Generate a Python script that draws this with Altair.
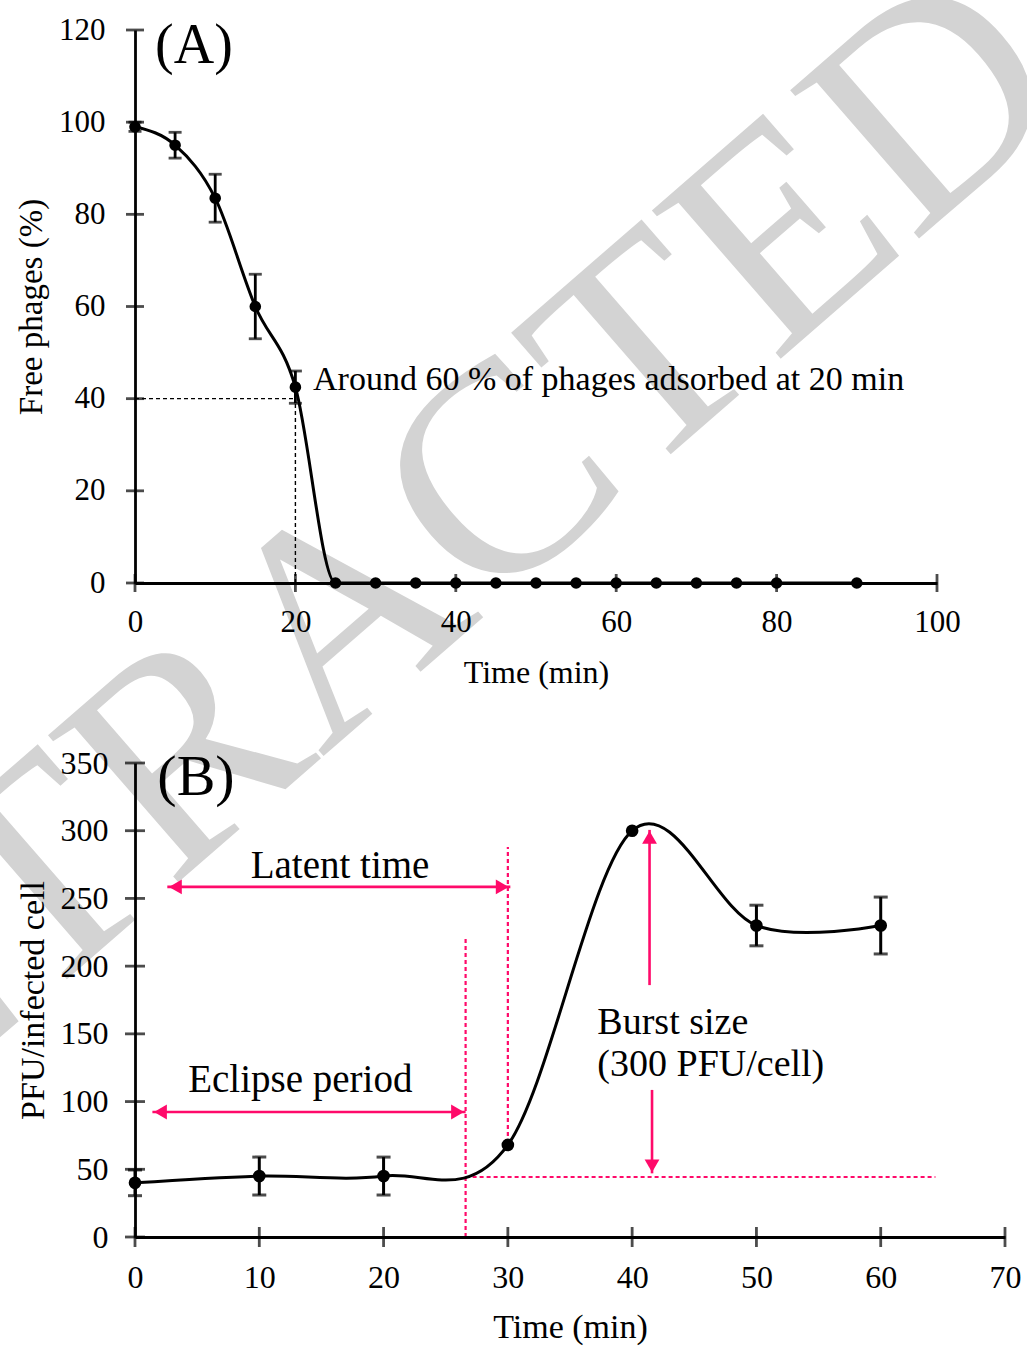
import altair as alt
import pandas as pd

FONT = "Liberation Serif"
PINK = "#ff0a6a"
BLACK = "#000000"

# ---------------- Panel A data ----------------
a_time = [0, 5, 10, 15, 20, 25, 30, 35, 40, 45, 50, 55, 60, 65, 70, 75, 80, 90]
a_free = [99, 95, 83.5, 60, 42.5, 0, 0, 0, 0, 0, 0, 0, 0, 0, 0, 0, 0, 0]
a_err = [1, 2.8, 5.2, 7, 3.5, 0, 0, 0, 0, 0, 0, 0, 0, 0, 0, 0, 0, 0]
a_xticks = [0, 20, 40, 60, 80, 100]
a_yticks = [0, 20, 40, 60, 80, 100, 120]

a_guide_x = [0, 20]
a_guide_x2 = [20, 20]
a_guide_y = [40, 0]
a_guide_y2 = [40, 40]
a_note = ["Around 60 % of phages adsorbed at 20 min"]
a_note_x = [22.2]
a_note_y = [44]
a_panel = ["(A)"]
a_panel_x = [2.5]
a_panel_y = [116.5]

watermark = ["RETRACTED"]

# ---------------- Panel B data ----------------
b_time = [0, 10, 20, 30, 40, 50, 60]
b_pfu = [40, 45, 45, 68, 300, 230, 230]
b_err = [9.5, 14, 14, 0, 0, 15, 21]
b_xticks = [0, 10, 20, 30, 40, 50, 60, 70]
b_yticks = [0, 50, 100, 150, 200, 250, 300, 350]

# horizontal double arrows (Latent time, Eclipse period)
b_harrow_x1 = [2.6, 1.4]
b_harrow_x2 = [30.2, 26.6]
b_harrow_y = [258.5, 92.3]
b_head_off = 0.65
# vertical arrows (burst size)
b_varrow_x = [41.4, 41.6]
b_varrow_from = [186, 108.6]
b_varrow_tip = [300.6, 47]
b_vhead_off = [-5.5, 5.5]
# dashed pink guides
b_vdash_x = [30, 26.6]
b_vdash_y1 = [69.5, 0]
b_vdash_y2 = [288, 221.6]
b_hdash_x1 = [26.6]
b_hdash_x2 = [64.4]
b_hdash_y = [44.3]
# texts
b_ctext = ["Latent time", "Eclipse period"]
b_ctext_x = [16.5, 13.3]
b_ctext_y = [274, 116]
b_ltext = ["Burst size", "(300 PFU/cell)"]
b_ltext_x = [37.2, 37.2]
b_ltext_y = [158, 127]
b_panel = ["(B)"]
b_panel_x = [1.8]
b_panel_y = [339]

# ---------------- sizes ----------------
AW, AH = 802, 553
BW, BH = 870, 474


def axis(values, title, lp, tp, lfs, tfs):
    return alt.Axis(values=values, title=title, grid=False, ticks=False, tickSize=0,
                    labelPadding=lp, titlePadding=tp, labelFontSize=lfs, titleFontSize=tfs,
                    labelFont=FONT, titleFont=FONT, titleFontWeight="normal",
                    labelColor=BLACK, titleColor=BLACK, domainColor=BLACK, domainWidth=2.8,
                    labelFlush=False, labelOverlap=False, labelBound=False, zindex=1)


# ---------------- Panel A ----------------
sxA = alt.Scale(domain=[0, 100], nice=False, zero=False)
syA = alt.Scale(domain=[0, 120], nice=False, zero=False)
axA_x = axis(a_xticks, "Time (min)", 24, 20, 31, 32)
axA_y = axis(a_yticks, "Free phages (%)", 30, 10, 31, 33)


def XA(f):
    return alt.X(f, type="quantitative", scale=sxA, axis=axA_x)


def YA(f):
    return alt.Y(f, type="quantitative", scale=syA, axis=axA_y)


dfA = pd.DataFrame({"x": a_time, "y": a_free, "e": a_err})
dfA["lo"] = dfA["y"] - dfA["e"]
dfA["hi"] = dfA["y"] + dfA["e"]
dfAerr = dfA[dfA["e"] > 0]

wm = alt.Chart(pd.DataFrame({"w": watermark})).mark_text(
    font=FONT, fontSize=300, color="#d3d3d3", align="right", baseline="alphabetic", angle=319
).encode(x=alt.value(941), y=alt.value(72), text="w:N")

a_guides = alt.Chart(pd.DataFrame({"x": a_guide_x, "x2": a_guide_x2, "y": a_guide_y, "y2": a_guide_y2})).mark_rule(
    color=BLACK, strokeWidth=1.4, strokeDash=[4, 3]
).encode(x=XA("x"), x2=alt.X2("x2"), y=YA("y"), y2=alt.Y2("y2"))

a_line = alt.Chart(dfA).mark_line(color=BLACK, strokeWidth=3, interpolate="monotone").encode(x=XA("x"), y=YA("y"))
a_pts = alt.Chart(dfA).mark_circle(color=BLACK, size=135, opacity=1).encode(x=XA("x"), y=YA("y"))
a_eb = alt.Chart(dfAerr).mark_rule(color=BLACK, strokeWidth=2.8).encode(x=XA("x"), y=YA("lo"), y2=alt.Y2("hi"))
a_cap1 = alt.Chart(dfAerr).mark_tick(color=BLACK, orient="horizontal", size=13, thickness=2.8).encode(x=XA("x"), y=YA("lo"))
a_cap2 = alt.Chart(dfAerr).mark_tick(color=BLACK, orient="horizontal", size=13, thickness=2.8).encode(x=XA("x"), y=YA("hi"))

a_ytk = alt.Chart(pd.DataFrame({"y": a_yticks})).mark_tick(color=BLACK, orient="horizontal", size=18, thickness=2.8).encode(
    x=alt.value(0), y=YA("y"))
a_xtk = alt.Chart(pd.DataFrame({"x": a_xticks})).mark_tick(color=BLACK, orient="vertical", size=18, thickness=2.8).encode(
    x=XA("x"), y=alt.value(AH))

a_txt = alt.Chart(pd.DataFrame({"x": a_note_x, "y": a_note_y, "t": a_note})).mark_text(
    font=FONT, fontSize=34, color=BLACK, align="left", baseline="middle"
).encode(x=XA("x"), y=YA("y"), text="t:N")
a_lab = alt.Chart(pd.DataFrame({"x": a_panel_x, "y": a_panel_y, "t": a_panel})).mark_text(
    font=FONT, fontSize=56, color=BLACK, align="left", baseline="middle"
).encode(x=XA("x"), y=YA("y"), text="t:N")

panelA = alt.layer(wm, a_guides, a_line, a_eb, a_cap1, a_cap2, a_pts, a_ytk, a_xtk, a_txt, a_lab).properties(
    width=AW, height=AH)

# ---------------- Panel B ----------------
sxB = alt.Scale(domain=[0, 70], nice=False, zero=False)
syB = alt.Scale(domain=[0, 350], nice=False, zero=False)
axB_x = axis(b_xticks, "Time (min)", 25, 17, 32, 34)
axB_y = axis(b_yticks, "PFU/infected cell", 27, 10, 32, 34)


def XB(f):
    return alt.X(f, type="quantitative", scale=sxB, axis=axB_x)


def YB(f):
    return alt.Y(f, type="quantitative", scale=syB, axis=axB_y)


dfB = pd.DataFrame({"x": b_time, "y": b_pfu, "e": b_err})
dfB["lo"] = dfB["y"] - dfB["e"]
dfB["hi"] = dfB["y"] + dfB["e"]
dfBerr = dfB[dfB["e"] > 0]

dfH = pd.DataFrame({"x1": b_harrow_x1, "x2": b_harrow_x2, "y": b_harrow_y})
dfH["hl"] = dfH["x1"] + b_head_off
dfH["hr"] = dfH["x2"] - b_head_off
dfV = pd.DataFrame({"x": b_varrow_x, "y1": b_varrow_from, "y2": b_varrow_tip, "o": b_vhead_off})
dfV["h"] = dfV["y2"] + dfV["o"]

HEAD = 220
b_harr = alt.Chart(dfH).mark_rule(color=PINK, strokeWidth=2.6).encode(x=XB("x1"), x2=alt.X2("x2"), y=YB("y"))
b_hl = alt.Chart(dfH).mark_point(shape="triangle-left", filled=True, color=PINK, size=HEAD, opacity=1).encode(
    x=XB("hl"), y=YB("y"))
b_hr = alt.Chart(dfH).mark_point(shape="triangle-right", filled=True, color=PINK, size=HEAD, opacity=1).encode(
    x=XB("hr"), y=YB("y"))
b_varr = alt.Chart(dfV).mark_rule(color=PINK, strokeWidth=2.6).encode(x=XB("x"), y=YB("y1"), y2=alt.Y2("y2"))
b_vup = alt.Chart(dfV.iloc[[0]]).mark_point(shape="triangle-up", filled=True, color=PINK, size=HEAD, opacity=1).encode(
    x=XB("x"), y=YB("h"))
b_vdn = alt.Chart(dfV.iloc[[1]]).mark_point(shape="triangle-down", filled=True, color=PINK, size=HEAD, opacity=1).encode(
    x=XB("x"), y=YB("h"))
b_vd = alt.Chart(pd.DataFrame({"x": b_vdash_x, "y1": b_vdash_y1, "y2": b_vdash_y2})).mark_rule(
    color=PINK, strokeWidth=2.2, strokeDash=[4, 3]).encode(x=XB("x"), y=YB("y1"), y2=alt.Y2("y2"))
b_hd = alt.Chart(pd.DataFrame({"x1": b_hdash_x1, "x2": b_hdash_x2, "y": b_hdash_y})).mark_rule(
    color=PINK, strokeWidth=2.2, strokeDash=[4, 3]).encode(x=XB("x1"), x2=alt.X2("x2"), y=YB("y"))

b_line = alt.Chart(dfB).mark_line(color=BLACK, strokeWidth=3, interpolate="cardinal").encode(x=XB("x"), y=YB("y"))
b_pts = alt.Chart(dfB).mark_circle(color=BLACK, size=160, opacity=1).encode(x=XB("x"), y=YB("y"))
b_eb = alt.Chart(dfBerr).mark_rule(color=BLACK, strokeWidth=3).encode(x=XB("x"), y=YB("lo"), y2=alt.Y2("hi"))
b_cap1 = alt.Chart(dfBerr).mark_tick(color=BLACK, orient="horizontal", size=14, thickness=3).encode(x=XB("x"), y=YB("lo"))
b_cap2 = alt.Chart(dfBerr).mark_tick(color=BLACK, orient="horizontal", size=14, thickness=3).encode(x=XB("x"), y=YB("hi"))

b_ytk = alt.Chart(pd.DataFrame({"y": b_yticks})).mark_tick(color=BLACK, orient="horizontal", size=20, thickness=2.8).encode(
    x=alt.value(0), y=YB("y"))
b_xtk = alt.Chart(pd.DataFrame({"x": b_xticks})).mark_tick(color=BLACK, orient="vertical", size=20, thickness=2.8).encode(
    x=XB("x"), y=alt.value(BH))

b_ct = alt.Chart(pd.DataFrame({"x": b_ctext_x, "y": b_ctext_y, "t": b_ctext})).mark_text(
    font=FONT, fontSize=39, color=BLACK, align="center", baseline="middle"
).encode(x=XB("x"), y=YB("y"), text="t:N")
b_lt = alt.Chart(pd.DataFrame({"x": b_ltext_x, "y": b_ltext_y, "t": b_ltext})).mark_text(
    font=FONT, fontSize=38, color=BLACK, align="left", baseline="middle"
).encode(x=XB("x"), y=YB("y"), text="t:N")
b_lab = alt.Chart(pd.DataFrame({"x": b_panel_x, "y": b_panel_y, "t": b_panel})).mark_text(
    font=FONT, fontSize=58, color=BLACK, align="left", baseline="middle"
).encode(x=XB("x"), y=YB("y"), text="t:N")

panelB = alt.layer(b_vd, b_hd, b_harr, b_hl, b_hr, b_varr, b_vup, b_vdn, b_line, b_eb, b_cap1, b_cap2, b_pts,
                   b_ytk, b_xtk, b_ct, b_lt, b_lab).properties(width=BW, height=BH)

chart = alt.vconcat(panelA, panelB, spacing=180, bounds="flush").properties(
    autosize=alt.AutoSizeParams(type="none"),
    padding={"left": 135, "top": 30, "right": 1027 - 135, "bottom": 1346 - 30},
    background="white",
).configure_view(stroke=None)

chart.save("out.html", embed_options={"renderer": "svg", "actions": False})
